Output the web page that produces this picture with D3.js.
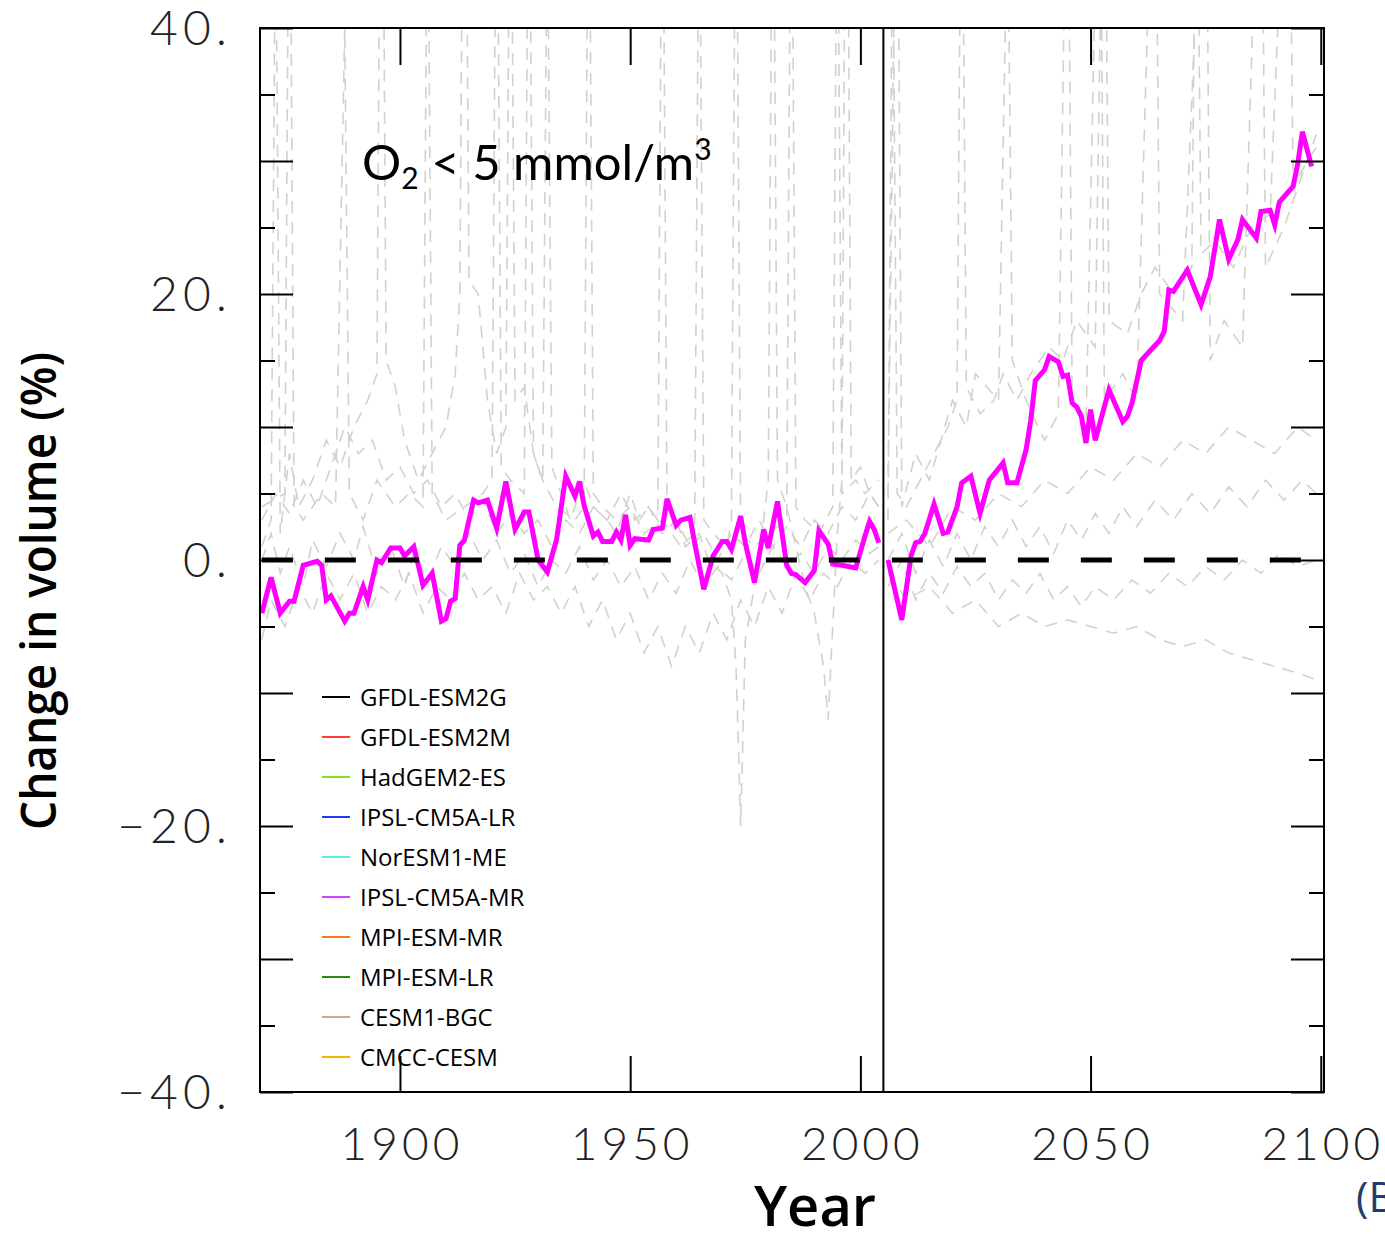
<!DOCTYPE html>
<html>
<head>
<meta charset="utf-8">
<script src="https://cdn.jsdelivr.net/npm/d3@7"></script>
<style>
  body { margin: 0; background: #fff; }
  svg { display: block; }
</style>
</head>
<body>
<svg id="chart" width="1385" height="1234"></svg>
<script>
// IPSL-CM5A-MR, historical run and projection [year, % change]
const magentaHist = [[1870,-4.0],[1872,-1.3],[1874,-4.0],[1876,-3.1],[1877,-3.1],[1879,-0.4],[1882,-0.1],[1883,-0.4],
  [1884,-3.0],[1885,-2.7],[1888,-4.6],[1889,-4.0],[1890,-4.0],[1892,-2.0],[1893,-3.0],[1895,0.0],[1896,-0.2],
  [1898,0.9],[1900,0.9],[1901,0.3],[1903,1.0],[1904,-0.4],[1905,-1.9],[1907,-1.0],[1909,-4.6],[1910,-4.4],
  [1911,-3.1],[1912,-2.9],[1913,1.1],[1914,1.5],[1916,4.5],[1917,4.3],[1919,4.5],[1921,2.4],[1923,5.9],
  [1925,2.3],[1927,3.6],[1928,3.6],[1930,0.0],[1932,-0.9],[1934,1.5],[1936,6.3],[1938,4.8],[1939,5.9],
  [1940,4.1],[1942,1.8],[1943,2.1],[1944,1.4],[1946,1.4],[1947,2.1],[1948,1.5],[1949,3.4],[1950,1.1],
  [1951,1.6],[1954,1.5],[1955,2.3],[1957,2.4],[1958,4.6],[1960,2.6],[1961,3.0],[1963,3.2],[1964,1.3],
  [1966,-2.2],[1968,0.3],[1970,1.4],[1971,1.4],[1972,0.8],[1974,3.3],[1975,1.3],[1977,-1.7],[1979,2.3],
  [1980,0.9],[1982,4.4],[1983,2.0],[1984,-0.4],[1985,-1.0],[1986,-1.1],[1988,-1.7],[1990,-0.8],[1991,2.2],
  [1993,1.2],[1994,-0.3],[1996,-0.4],[1999,-0.6],[2001,1.8],[2002,2.9],[2003,2.3],[2004,1.3]];
const magentaProj = [[2006,0.0],[2009,-4.5],[2011,0.3],[2012,1.3],[2013,1.4],[2014,2.0],[2016,4.2],[2018,2.0],
  [2019,2.1],[2021,4.0],[2022,5.8],[2024,6.3],[2026,3.5],[2028,6.0],[2031,7.3],[2032,5.8],[2034,5.8],
  [2036,8.3],[2037,10.5],[2038,13.5],[2040,14.3],[2041,15.3],[2043,14.9],[2044,13.8],[2045,13.9],
  [2046,11.8],[2047,11.5],[2048,10.8],[2049,8.8],[2050,11.3],[2051,9.0],[2054,12.8],[2057,10.4],
  [2058,10.8],[2059,11.8],[2061,15.0],[2065,16.5],[2066,17.2],[2067,20.3],[2068,20.2],[2071,21.8],
  [2074,19.2],[2076,21.3],[2078,25.6],[2080,22.6],[2082,24.1],[2083,25.6],[2086,24.2],[2087,26.2],
  [2089,26.3],[2090,25.2],[2091,26.9],[2094,28.1],[2095,29.8],[2096,32.2],[2098,29.6]];

// other models, drawn in grey
const greyHistA = [[1870,1],[1872,3],[1873,50],[1874,2],[1876,8],[1878,4],[1881,6],[1884,9],[1887,7],
  [1890,10],[1893,12],[1895,14],[1896,70],[1897,15],[1899,13],[1901,9],[1904,6],[1907,8],[1910,10],
  [1912,14],[1913,20],[1914,70],[1915,21],[1917,20],[1919,12],[1921,8],[1923,10],[1924,60],[1925,12],
  [1927,13],[1929,8],[1931,6],[1932,50],[1933,7],[1935,5],[1937,3],[1940,6],[1942,4],[1945,3],
  [1947,2],[1950,5],[1952,3],[1954,4],[1956,3],[1957,60],[1958,4],[1960,3],[1962,1],[1965,2],
  [1967,0],[1970,-1],[1972,-3],[1973,-8],[1974,-20],[1975,-6],[1977,-2],[1979,3],[1980,6],[1981,60],[1982,6],
  [1984,4],[1986,1],[1988,-2],[1990,-4],[1992,-8],[1993,-12],[1994,-5],[1995,2],[1996,6],[1997,70],
  [1998,6],[2000,7],[2002,5],[2004,4]];
const greyHistB = [[1870,4],[1875,5],[1876,60],[1877,4],[1879,3],[1883,5],[1886,4],[1888,40],[1889,5],
  [1892,3],[1895,6],[1899,4],[1902,5],[1905,4],[1906,55],[1907,5],[1910,3],[1914,4],[1918,5],[1920,6],[1921,60],
  [1922,7],[1924,6],[1927,5],[1928,60],[1929,8],[1931,6],[1934,4],[1938,3],[1940,4],
  [1941,60],[1942,5],[1944,4],[1947,3],[1950,4],[1953,2],[1957,3],[1961,1],[1964,2],[1965,55],
  [1966,3],[1968,2],[1971,1],[1972,3],[1973,60],[1974,2],[1977,1],[1980,2],[1984,3],[1985,60],
  [1986,4],[1988,3],[1991,2],[1994,4],[1995,55],[1996,5],[1999,6],[2001,5],[2004,6]];
const greyHistC = [[1870,3],[1873,5],[1876,3.5],[1879,6],[1882,4],[1885,7],[1888,10],[1891,8],[1894,9],[1897,6],
  [1900,7],[1903,5],[1906,6],[1909,4],[1912,5],[1915,3],[1918,4.5],[1921,2],[1924,3.5],[1927,2],[1930,3],
  [1933,1],[1936,3],[1939,2],[1942,4],[1945,3],[1948,5],[1951,3],[1954,4],[1957,2],[1960,3],[1963,1],
  [1966,2],[1969,0],[1972,2],[1975,1],[1978,3],[1981,1],[1984,2.5],[1987,1],[1990,3],[1993,2],[1996,4],
  [1999,3],[2002,5],[2004,4]];
const greyHistD = [[1870,-6],[1872,-3],[1875,-5],[1878,-2],[1881,-4],[1884,-1],[1887,-3],[1890,-1],[1893,-4],
  [1896,-2],[1899,-3],[1902,-1],[1905,-4],[1908,-2],[1911,-3],[1914,-1],[1917,-3],[1920,-2],[1923,-4],
  [1926,-1],[1929,-3],[1932,-2],[1935,-4],[1938,-2],[1941,-5],[1944,-3],[1947,-6],[1950,-4],[1953,-7],
  [1956,-5],[1959,-8],[1962,-5],[1965,-7],[1968,-4],[1971,-6],[1974,-3],[1977,-5],[1980,-2],[1983,-4],
  [1986,-1],[1989,-3],[1992,-1],[1995,-2],[1998,0],[2001,-1],[2004,0]];
const greyHistE = [[1870,0],[1872,2],[1874,-1],[1876,1],[1879,-2],[1881,1.5],[1884,-0.5],[1887,2],[1890,0],
  [1892,2.5],[1895,-1],[1898,1],[1901,-2],[1903,0.5],[1906,-1.5],[1909,1],[1912,-0.5],[1915,2],[1918,0],
  [1921,1.5],[1924,-1],[1927,0.5],[1930,-2],[1933,0],[1936,-1],[1939,1],[1942,-1.5],[1945,0],[1948,-2],
  [1951,-0.5],[1954,-3],[1957,-1],[1960,-2.5],[1963,0],[1966,-2],[1969,-0.5],[1972,-1.5],[1975,0.5],
  [1978,-1],[1981,1],[1984,-0.5],[1987,0.5],[1990,-1],[1993,1],[1996,0],[1999,1.5],[2002,0.5],[2004,1]];
const greyProjA = [[2006,5],[2008,60],[2009,4],[2012,8],[2015,6],[2020,12],[2023,10],[2025,14],
  [2030,12],[2032,50],[2033,15],[2036,12],[2040,9],[2043,11],[2045,60],[2046,12],[2049,10],
  [2052,60],[2053,12],[2057,14],[2060,12],[2064,60],[2065,20],[2070,18],[2075,60],
  [2076,15],[2079,18],[2083,16],[2087,60],[2088,22],[2092,25],[2095,28],[2097,30],[2099,32]];
const greyProjB = [[2006,3],[2007,50],[2008,5],[2010,4],[2013,6],[2016,8],[2019,10],[2021,12],[2022,60],
  [2023,13],[2026,11],[2029,12],[2031,14],[2034,12],[2037,14],[2041,16],[2044,15],[2047,18],
  [2051,16],[2053,60],[2054,18],[2058,17],[2061,20],[2064,22],[2068,20],[2072,22],[2073,60],
  [2074,23],[2077,24],[2081,22],[2085,25],[2089,26],[2093,60],[2094,28],[2097,30],[2099,31]];
const greyProjC = [[2006,-1],[2010,-3],[2015,-2],[2020,-4],[2025,-3],[2030,-5],[2035,-4],[2040,-5],[2045,-4.5],
  [2050,-5],[2055,-5.5],[2060,-5],[2065,-6],[2070,-6.5],[2075,-6],[2080,-7],[2085,-7.5],[2090,-8],
  [2095,-8.5],[2099,-9]];
const greyProjD = [[2006,2],[2010,3],[2015,1],[2020,4],[2025,3],[2030,5],[2035,4],[2040,6],[2045,5],[2050,7],
  [2055,6],[2060,8],[2065,7],[2070,9],[2075,8],[2080,10],[2085,9],[2090,8],[2095,10],[2099,9]];
const greyProjE = [[2006,0],[2009,2],[2012,-1],[2015,1.5],[2018,-0.5],[2021,2],[2024,0],[2027,2.5],[2030,1],
  [2033,3],[2036,1],[2039,2.5],[2042,0.5],[2045,3],[2048,1.5],[2051,3.5],[2054,2],[2057,4],[2060,2.5],
  [2064,4.5],[2068,3],[2072,5],[2076,3.5],[2080,5.5],[2084,4],[2088,6],[2092,4.5],[2096,6],[2099,5]];
const greyProjF = [[2006,-2],[2009,0],[2012,-3],[2015,-1],[2018,-2.5],[2021,-0.5],[2024,-2],[2027,-1],
  [2030,-3],[2033,-1.5],[2036,-2.5],[2039,-1],[2042,-3],[2045,-2],[2048,-3.5],[2051,-2],[2055,-3],[2059,-1.5],
  [2063,-2.5],[2067,-1],[2071,-2],[2075,-0.5],[2079,-1.5],[2083,0],[2087,-1],[2091,0.5],[2095,-0.5],[2099,0]];

const models = ["GFDL-ESM2G", "GFDL-ESM2M", "HadGEM2-ES", "IPSL-CM5A-LR", "NorESM1-ME",
  "IPSL-CM5A-MR", "MPI-ESM-MR", "MPI-ESM-LR", "CESM1-BGC", "CMCC-CESM"];
const modelColors = ["#000000", "#ff3b30", "#7fe028", "#1f3cff", "#62e6f0",
  "#d444f4", "#f07a2a", "#2a8a10", "#c4aa98", "#f4b400"];
const yMajor = [-40, -30, -20, -10, 0, 10, 20, 30, 40];
const yMinor = [-35, -25, -15, -5, 5, 15, 25, 35];
const yLabels = [-40, -20, 0, 20, 40];
const xTicks = [1900, 1950, 2000, 2050, 2100];
const splitYear = 2005;

function load_chart(svg_name) {
    let chart = d3.select(svg_name);

    let x = d3.scaleLinear().domain([1869.6, 2100.7]).range([260, 1324]);
    let y = d3.scaleLinear().domain([-40, 40]).range([1092, 28]);

    chart.append("clipPath").attr("id", "plotclip")
        .append("rect")
        .attr("x", x.range()[0]).attr("y", y.range()[1])
        .attr("width", x.range()[1] - x.range()[0])
        .attr("height", y.range()[0] - y.range()[1]);

    let line = d3.line()
        .x(function(d) { return x(d[0]); })
        .y(function(d) { return y(d[1]); });

    let plot = chart.append("g").attr("clip-path", "url(#plotclip)");

    // grey dashed model runs
    let greys = [greyHistA, greyHistB, greyHistC, greyHistD, greyHistE,
                 greyProjA, greyProjB, greyProjC, greyProjD, greyProjE, greyProjF];
    plot.selectAll(".grey")
        .data(greys).enter()
        .append("path")
        .attr("class", "grey")
        .attr("d", line)
        .attr("fill", "none")
        .attr("stroke", "#d2d1cc")
        .attr("stroke-width", 1.6)
        .attr("stroke-dasharray", "12,9");

    // IPSL-CM5A-MR in magenta
    plot.selectAll(".magenta")
        .data([magentaHist, magentaProj]).enter()
        .append("path")
        .attr("class", "magenta")
        .attr("d", line)
        .attr("fill", "none")
        .attr("stroke", "#ff00ff")
        .attr("stroke-width", 5)
        .attr("stroke-linejoin", "miter");

    // zero reference
    plot.append("line")
        .attr("x1", x(1870)).attr("x2", x(2099))
        .attr("y1", y(0)).attr("y2", y(0))
        .attr("stroke", "#000")
        .attr("stroke-width", 5)
        .attr("stroke-dasharray", "31,32");

    // historical / projection split
    chart.append("line")
        .attr("x1", x(splitYear)).attr("x2", x(splitYear))
        .attr("y1", y(40)).attr("y2", y(-40))
        .attr("stroke", "#000")
        .attr("stroke-width", 2);

    // ticks, all pointing inwards
    function ticks(axis, tx, ty) {
        chart.append("g")
            .attr("transform", "translate(" + tx + "," + ty + ")")
            .call(axis.tickFormat("").tickSizeOuter(0))
            .call(function(g) { g.select(".domain").remove(); })
            .selectAll("line").attr("stroke", "#000").attr("stroke-width", 2);
    }
    ticks(d3.axisLeft(y).tickValues(yMajor).tickSizeInner(-33), 260, 0);
    ticks(d3.axisLeft(y).tickValues(yMinor).tickSizeInner(-15), 260, 0);
    ticks(d3.axisRight(y).tickValues(yMajor).tickSizeInner(-33), 1324, 0);
    ticks(d3.axisRight(y).tickValues(yMinor).tickSizeInner(-15), 1324, 0);
    ticks(d3.axisTop(x).tickValues(xTicks).tickSizeInner(-37), 0, 28);
    ticks(d3.axisBottom(x).tickValues(xTicks).tickSizeInner(-36), 0, 1092);

    // frame
    chart.append("rect")
        .attr("x", 260).attr("y", 28)
        .attr("width", 1064).attr("height", 1064)
        .attr("fill", "none")
        .attr("stroke", "#000")
        .attr("stroke-width", 2);

    // tick labels
    chart.selectAll(".ylab")
        .data(yLabels).enter()
        .append("text")
        .attr("class", "ylab")
        .attr("x", 232)
        .attr("y", function(d) { return y(d) + 17; })
        .attr("text-anchor", "end")
        .style("font-family", "Lato")
        .style("font-weight", 300)
        .style("font-size", "48px")
        .style("letter-spacing", "5px")
        .style("fill", "#222")
        .text(function(d) { return (d < 0 ? "\u2212" : "") + Math.abs(d) + "."; });

    chart.selectAll(".xlab")
        .data(xTicks).enter()
        .append("text")
        .attr("class", "xlab")
        .attr("x", function(d) { return x(d) + 2; })
        .attr("y", 1160)
        .attr("text-anchor", "middle")
        .style("font-family", "Lato")
        .style("font-weight", 300)
        .style("font-size", "46px")
        .style("letter-spacing", "4px")
        .style("fill", "#222")
        .text(function(d) { return d; });

    // axis titles
    chart.append("text")
        .attr("transform", "translate(56,591) rotate(-90)")
        .attr("text-anchor", "middle")
        .attr("textLength", 478)
        .attr("lengthAdjust", "spacingAndGlyphs")
        .style("font-family", "Open Sans")
        .style("font-weight", 600)
        .style("font-size", "48px")
        .style("fill", "#000")
        .text("Change in volume (%)");

    chart.append("text")
        .attr("x", 815).attr("y", 1226)
        .attr("text-anchor", "middle")
        .style("font-family", "Open Sans")
        .style("font-weight", 600)
        .style("font-size", "56px")
        .style("fill", "#000")
        .text("Year");

    // panel title
    let title = chart.append("text")
        .attr("x", 362).attr("y", 180)
        .style("font-family", "Lato")
        .style("font-size", "49px")
        .style("fill", "#000");
    title.append("tspan").text("O");
    title.append("tspan").attr("dy", 9).style("font-size", "30px").text("2");
    title.append("tspan").attr("dy", -9).text(" < 5 mmol/m");
    title.append("tspan").attr("dy", -20).style("font-size", "30px").text("3");

    // legend
    let legend = chart.append("g");
    legend.selectAll("line")
        .data(models).enter()
        .append("line")
        .attr("x1", 322).attr("x2", 350)
        .attr("y1", function(d, i) { return 697 + i * 40; })
        .attr("y2", function(d, i) { return 697 + i * 40; })
        .attr("stroke", function(d, i) { return modelColors[i]; })
        .attr("stroke-width", 2);
    legend.selectAll("text")
        .data(models).enter()
        .append("text")
        .attr("x", 360)
        .attr("y", function(d, i) { return 706 + i * 40; })
        .style("font-family", "Open Sans")
        .style("font-size", "24px")
        .style("fill", "#000")
        .text(function(d) { return d; });

    // cut-off panel letter at the right edge
    chart.append("text")
        .attr("x", 1356).attr("y", 1212)
        .style("font-family", "Open Sans")
        .style("font-size", "42px")
        .style("fill", "#1f3d6e")
        .text("(B)");

    return { chart: chart, x_scale: x, y_scale: y };
}

load_chart("#chart");
</script>
</body>
</html>
